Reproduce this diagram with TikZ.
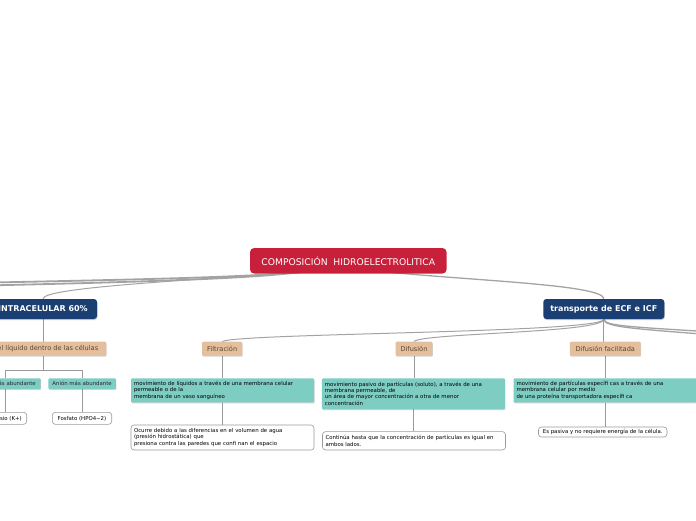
\documentclass[tikz,border=0pt]{standalone}
\usepackage{fontspec}
\setmainfont{DejaVu Sans}
\usetikzlibrary{shadows,backgrounds,calc}
\definecolor{rootred}{HTML}{C8203A}
\definecolor{navy}{HTML}{1B3F73}
\definecolor{beige}{HTML}{E4BF9E}
\definecolor{beigetext}{HTML}{5C4330}
\definecolor{tealbox}{HTML}{7ECDC3}
\definecolor{conn}{HTML}{A3A3A3}
\definecolor{noteline}{HTML}{9A9A9A}
\begin{document}
\begin{tikzpicture}[x=1pt,y=-1pt,
  shad/.style={drop shadow={shadow xshift=0.5pt,shadow yshift=-1pt,opacity=0.3,fill=black!60}},
  rootbox/.style={fill=rootred,text=white,rounded corners=4pt,minimum width=196.5pt,minimum height=25.5pt,inner sep=0pt,font=\fontsize{9.2}{10}\selectfont},
  mainbox/.style={shad,fill=navy,text=white,rounded corners=3pt,minimum height=20pt,inner sep=0pt,font=\fontsize{8}{9}\bfseries\selectfont},
  subbox/.style={shad,fill=beige,text=beigetext,rounded corners=1pt,minimum height=14pt,inner sep=0pt,font=\fontsize{6.6}{7.5}\selectfont},
  smallteal/.style={shad,fill=tealbox,text=black!85,rounded corners=1pt,minimum height=10.7pt,inner sep=0pt,font=\fontsize{5.4}{6.2}\selectfont},
  descbox/.style={shad,fill=tealbox,text=black,rounded corners=1pt,text width=177pt,align=left,inner xsep=3pt,inner ysep=0pt,font=\fontsize{5.4}{6.2}\selectfont},
  notebox/.style={draw=noteline,line width=0.6pt,fill=white,rounded corners=3pt,inner xsep=3pt,inner ysep=0pt,align=left,font=\fontsize{5.4}{6.2}\selectfont},
  link/.style={draw=noteline,line width=0.8pt},
  thinlink/.style={draw=conn,line width=1pt},
  midlink/.style={draw=conn,line width=1.3pt},
  thicklink/.style={draw=conn,line width=1.8pt},
]
\useasboundingbox (0,0) rectangle (696,520);

% nodes
\node[rootbox] (root) at (348.3,260.8) {COMPOSICIÓN~ HIDROELECTROLITICA};
\node[mainbox,minimum width=108pt] (intra) at (43,309) {INTRACELULAR 60\%};
\node[mainbox,minimum width=121pt] (trans) at (603.8,309) {transporte de ECF e ICF};

\node[subbox,minimum width=126pt] (liq) at (43,348.7) {Es el líquido dentro de las células};
\node[subbox,minimum width=40pt] (fil) at (222.2,348.7) {Filtración};
\node[subbox,minimum width=36.6pt] (dif) at (414,348.7) {Difusión};
\node[subbox,minimum width=70.7pt] (dff) at (605.3,348.7) {Difusión facilitada};

\node[smallteal,minimum width=71.4pt] (cat) at (5,383.6) {Catión más abundante};
\node[smallteal,minimum width=67.7pt] (ani) at (82.1,383.6) {Anión más abundante};
\node[notebox,minimum width=43.4pt,minimum height=12pt] (pot) at (5,418.3) {Potasio (K+)};
\node[notebox,minimum width=59.4pt,minimum height=12pt] (fos) at (82,418.3) {Fosfato (HPO4−2)};

\node[descbox,minimum height=24pt] (filD) at (222.5,390.3) {movimiento de líquidos a través de una membrana celular\\permeable o de la\\membrana de un vaso sanguíneo};
\node[notebox,text width=177pt,minimum height=25pt] (filW) at (222.5,437.5) {Ocurre debido a las diferencias en el volumen de agua\\(presión hidrostática) que\\presiona contra las paredes que confi nan el espacio};

\node[descbox,minimum height=30.7pt] (difD) at (413.4,393.7) {movimiento pasivo de partículas (soluto), a través de una\\membrana permeable, de\\un área de mayor concentración a otra de menor\\concentración};
\node[notebox,text width=177pt,minimum height=18.3pt] (difW) at (414,440.8) {Continúa hasta que la concentración de partículas es igual en\\ambos lados.};

\node[descbox,minimum height=24pt] (dffD) at (605,390.3) {movimiento de partículas específi cas a través de una\\membrana celular por medio\\de una proteína transportadora específi ca};
\node[notebox,minimum width=128.5pt,minimum height=10pt] (dffW) at (602.7,432) {Es pasiva y no requiere energía de la célula.};

% free ends of connectors leading off the picture
\coordinate (offA) at (-60,283.5);
\coordinate (offB) at (-60,286.5);
\coordinate (offC) at (760,335);
\coordinate (offD) at (760,338.5);
\coordinate (rootR) at ($(root.south)+(35,-2)$);
\coordinate (rootL) at ($(root.south)+(-45,-2)$);

\begin{scope}[on background layer]
  % from the root
  \draw[thicklink] (rootL) .. controls (250,277) and (150,279.5) .. (offA);
  \draw[thicklink] (rootL) .. controls (252,278.5) and (150,282) .. (offB);
  \draw[thinlink] (rootL) .. controls (200,280) and (43,287) .. (intra.north);
  \draw[midlink] (rootR) .. controls (480,281) and (603.8,285) .. (trans.north);
  % from transporte
  \draw[thinlink] (trans.south) .. controls (603.8,333) and (240,333) .. (fil.north);
  \draw[thinlink] (trans.south) .. controls (603.8,333) and (422,333) .. (dif.north);
  \draw[link] (trans.south) -- (trans.south |- dff.north);
  \draw[midlink] (trans.south) .. controls (603.8,327) and (640,327) .. (offC);
  \draw[midlink] (trans.south) .. controls (603.8,328) and (640,329) .. (offD);
  % intracelular branch
  \draw[link] (intra.south) -- (liq.north);
  \draw[link] (liq.south) -- ++(0,14.3) -| (cat.north);
  \draw[link] (liq.south) -- ++(0,14.3) -| (ani.north);
  \draw[link] (cat.south) -- (pot.north);
  \draw[link] (ani.south) -- (ani.south |- fos.north);
  % lower levels
  \draw[link] (fil.south) -- (fil.south |- filD.north);
  \draw[link] (filD.south) -- (filW.north);
  \draw[link] (dif.south) -- (dif.south |- difD.north);
  \draw[link] (difD.south) -- (difD.south |- difW.north);
  \draw[link] (dff.south) -- (dff.south |- dffD.north);
  \draw[link] (dffD.south) -- (dffD.south |- dffW.north);
\end{scope}
\end{tikzpicture}
\end{document}
